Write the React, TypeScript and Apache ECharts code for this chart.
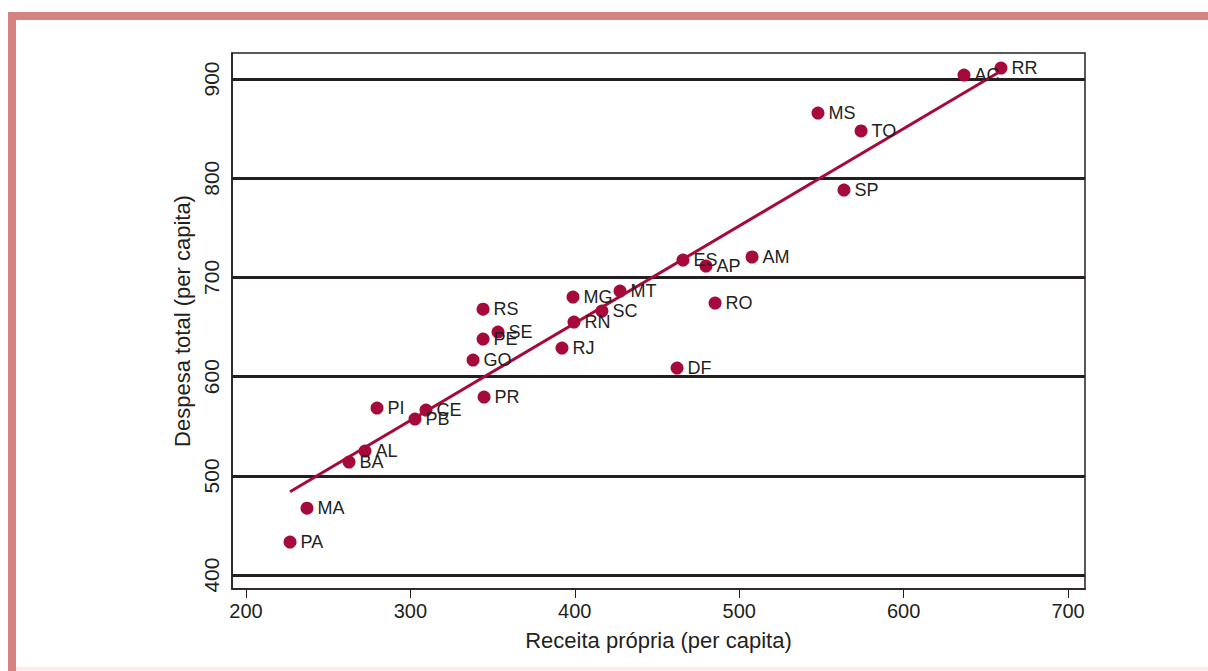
import React, { useEffect, useRef } from "react";
import * as echarts from "echarts";

const states = ["RR","AC","MS","TO","SP","AM","ES","AP","RO","DF","MT","MG","SC","RN","RJ","RS","SE","PE","GO","PR","PI","CE","PB","AL","BA","MA","PA"];
const receita = [659.2,636.7,547.9,574.1,563.7,507.8,465.8,479.8,485.3,462.2,427.5,398.9,416.5,399.5,392.2,344.2,353.3,344.2,338.1,344.8,279.7,309.5,302.8,272.4,262.7,237.1,226.8];
const despesa = [911,904,865.7,847.6,788.1,720.6,717.5,711.5,674.2,608.7,686.3,680.2,666.1,655,628.8,668,645,637.9,616.7,579.4,568.3,566.3,557.3,525,513.9,467.5,433.3];
const fitLine = [[226.8, 484], [659.2, 908]];
const xTicks = [200, 300, 400, 500, 600, 700];
const yTicks = [400, 500, 600, 700, 800, 900];

const RED = "#a50a3a";
const TXT = "#231f20";
const FONT = "'Liberation Sans', Arial, Helvetica, sans-serif";

export default function App() {
  const ref = useRef<HTMLDivElement>(null);
  useEffect(() => {
    if (!ref.current) return;
    const chart = echarts.init(ref.current, null, { renderer: "svg" });
    const pts = states.map((s, i) => ({ name: s, value: [receita[i], despesa[i]] }));
    chart.setOption({
      animation: false,
      backgroundColor: "#ffffff",
      textStyle: { fontFamily: FONT },
      graphic: [
        { type: "rect", shape: { x: 8, y: 12, width: 1200, height: 8 }, style: { fill: "#d48282" } },
        { type: "rect", shape: { x: 8, y: 12, width: 8, height: 659 }, style: { fill: "#d48282" } },
        { type: "rect", shape: { x: 16, y: 667, width: 1192, height: 4 }, style: { fill: "#f9ecec" } },
      ],
      grid: { left: 232, top: 53, width: 853, height: 536, show: true, borderColor: TXT, borderWidth: 1.5, backgroundColor: "transparent" },
      xAxis: {
        type: "value",
        min: 191.5,
        max: 710.3,
        name: "Receita própria (per capita)",
        nameLocation: "middle",
        nameGap: 40,
        nameTextStyle: { fontSize: 22, color: TXT, fontFamily: FONT },
        axisLine: { show: true, lineStyle: { color: TXT, width: 1.5 } },
        axisTick: { show: true, length: 9, lineStyle: { color: TXT, width: 1 }, customValues: xTicks },
        axisLabel: { fontSize: 20, color: TXT, margin: 12, customValues: xTicks, fontFamily: FONT },
        splitLine: { show: false },
      },
      yAxis: {
        type: "value",
        min: 386,
        max: 926.2,
        name: "Despesa total (per capita)",
        nameLocation: "middle",
        nameGap: 38,
        nameTextStyle: { fontSize: 22, color: TXT, fontFamily: FONT },
        axisLine: { show: true, lineStyle: { color: TXT, width: 1.5 } },
        axisTick: { show: false, customValues: yTicks },
        axisLabel: { fontSize: 21, color: TXT, rotate: 90, margin: 10, customValues: yTicks, fontFamily: FONT },
        splitLine: { show: true, showMinLine: true, showMaxLine: true, lineStyle: { color: TXT, width: 3 } },
      },
      series: [
        {
          type: "line",
          data: fitLine,
          symbol: "none",
          lineStyle: { color: RED, width: 3 },
          z: 3,
        },
        {
          type: "scatter",
          data: pts,
          symbolSize: 13,
          itemStyle: { color: RED, opacity: 1 },
          z: 4,
          label: {
            show: true,
            position: "right",
            distance: 4,
            offset: [0, 4],
            formatter: (p: any) => p.name,
            fontSize: 18,
            color: TXT,
            fontFamily: FONT,
          },
          labelLayout: { hideOverlap: false },
        },
      ],
    });
    return () => chart.dispose();
  }, []);
  return <div ref={ref} style={{ position: "absolute", left: 0, top: 0, width: 1208, height: 671 }} />;
}
